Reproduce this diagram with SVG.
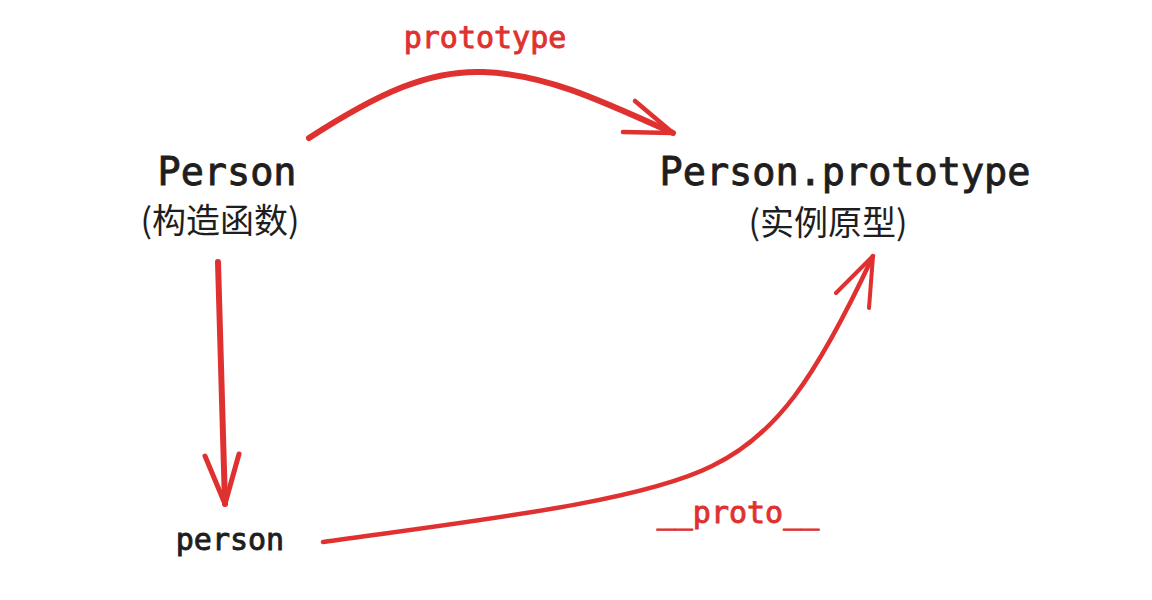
<svg xmlns="http://www.w3.org/2000/svg" width="1152" height="600" viewBox="0 0 1152 600">
<style>
.code{font-family:"DejaVu Sans Mono","Liberation Mono",monospace;font-weight:normal;fill:#1e1e1e;stroke:#1e1e1e;stroke-width:0.9px}
.red{fill:#e03131;stroke:#e03131}
.cjk{font-family:"Noto Sans CJK SC",sans-serif;fill:#1e1e1e;font-size:34px}
.ln{fill:none;stroke:#e03131;stroke-linecap:round;stroke-linejoin:round}
</style>
<rect width="1152" height="600" fill="#ffffff"/>
<g id="node-person-ctor">
<text class="code" x="227" y="185" font-size="38.5" text-anchor="middle">Person</text>
<text class="cjk" x="220" y="233" text-anchor="middle">(构造函数)</text>
</g>
<g id="node-prototype">
<text class="code" x="845" y="185" font-size="38.5" text-anchor="middle">Person.prototype</text>
<text class="cjk" x="828" y="235" text-anchor="middle">(实例原型)</text>
</g>
<g id="node-instance">
<text class="code" x="230" y="550" font-size="30" text-anchor="middle">person</text>
</g>
<g id="connectors">
<g id="edge-prototype">
<path class="ln" stroke-width="6" d="M309,138 C380,92 430,70 483,72 C545,74 600,100 673,133"/>
<path class="ln" stroke-width="4.5" d="M635,101 L673,133 L623,132"/>
<text class="code red" x="485" y="48" font-size="30" text-anchor="middle">prototype</text>
</g>
<g id="edge-constructs">
<path class="ln" stroke-width="6" d="M218,262 L225,504"/>
<path class="ln" stroke-width="5" d="M205,456 L225,504 L239,454"/>
</g>
<g id="edge-proto">
<path class="ln" stroke-width="4.5" d="M323,542 C480,520 640,502 712,466 C775,436 815,380 873,256"/>
<path class="ln" stroke-width="4" d="M836,293 L873,256 L869,308"/>
<text class="code red" x="738" y="523" font-size="30" text-anchor="middle">__proto__</text>
</g>
</g>
</svg>
